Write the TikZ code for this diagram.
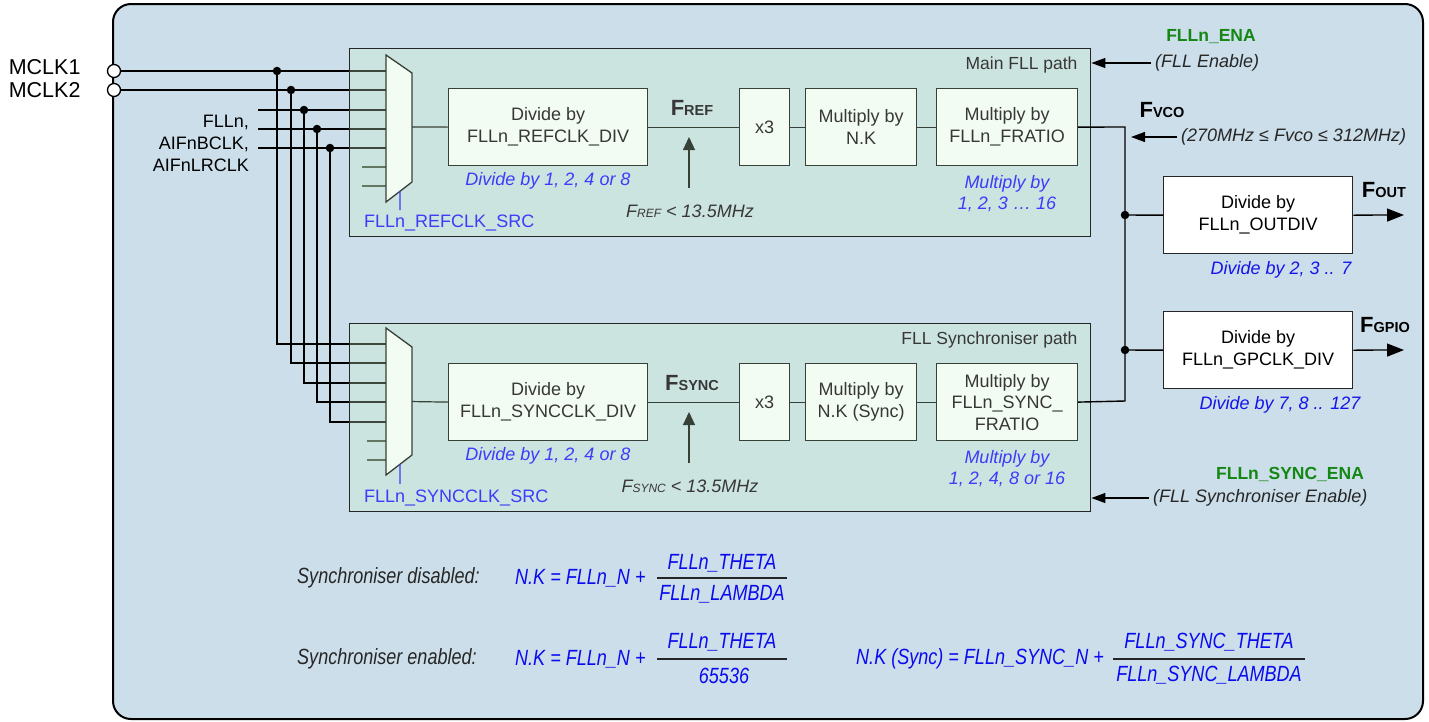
\documentclass[tikz,border=0pt]{standalone}
\usepackage{fontspec}
\setmainfont{Liberation Sans}
\newfontfamily\narrowf[FakeStretch=0.82]{Liberation Sans}
\usetikzlibrary{arrows.meta}
\definecolor{bgblue}{RGB}{204,222,233}
\definecolor{pathfill}{RGB}{204,245,200}
\definecolor{boxfill}{RGB}{243,252,243}
\definecolor{dline}{RGB}{55,65,55}
\definecolor{txtgray}{RGB}{55,55,55}
\definecolor{lblblue}{RGB}{60,60,250}
\definecolor{lblblue2}{RGB}{20,20,235}
\definecolor{eqblue}{RGB}{10,10,240}
\definecolor{enagreen}{RGB}{20,135,20}
\newcommand{\Fs}[1]{{\fontsize{22}{22}\selectfont\bfseries F}{\fontsize{14.5}{14.5}\selectfont\bfseries #1}}
\newcommand{\Fi}[1]{{\itshape F}{\fontsize{12}{12}\selectfont\itshape #1}}
\begin{document}
\begin{tikzpicture}[x=1pt,y=-1pt,font=\fontsize{18}{22}\selectfont,
  wire/.style={line width=1.7pt,black},
  pathbox/.style={draw=black!85,line width=1.4pt,fill=pathfill,fill opacity=0.3,draw opacity=1,anchor=north west,inner sep=0pt},
  blk/.style={draw=dline,line width=1.2pt,fill=boxfill,align=center,anchor=north west,inner sep=0pt,minimum height=77pt,text=txtgray},
  outblk/.style={draw=black!85,line width=1.3pt,fill=white,align=center,anchor=north west,inner sep=0pt,minimum height=77pt,minimum width=189pt},
  muxs/.style={draw=dline,line width=1.3pt,fill=boxfill},
  iline/.style={line width=1.2pt,dline},
  dot/.style={circle,fill=black,inner sep=0pt,minimum size=8.5pt},
  port/.style={circle,draw=black,line width=1.3pt,fill=white,inner sep=0pt,minimum size=13pt},
  lbl/.style={text=lblblue,font=\fontsize{18}{21}\selectfont\itshape,align=center},
  lbl2/.style={text=lblblue2,font=\fontsize{18}{21}\selectfont\itshape,align=center},
  note/.style={text=txtgray,font=\fontsize{18}{21}\selectfont\itshape},
  ena/.style={text=enagreen,font=\fontsize{17.5}{21}\selectfont\bfseries},
  eq/.style={font=\narrowf\itshape\fontsize{22}{24}\selectfont,text=eqblue,inner sep=0pt},
  eqlbl/.style={font=\narrowf\itshape\fontsize{22}{24}\selectfont,text=black!85,inner sep=0pt},
  earrow/.style={-{Triangle[length=14pt,width=10pt]},line width=1.2pt,black},
  oarrow/.style={-{Triangle[length=17pt,width=13pt]},line width=1.3pt,black},
  uarrow/.style={-{Triangle[length=13pt,width=12pt]},line width=1.2pt,dline}]
\useasboundingbox (0,0) rectangle (1429,721);
% outer panel
\draw[line width=2pt,fill=bgblue,rounded corners=18pt] (113,4) rectangle (1423,719);

% ports
\node[port] (mclk1) at (114,71) {};
\node[port] (mclk2) at (114,90) {};
\node[anchor=east,font=\fontsize{21.5}{22}\selectfont] (l1) at (84,67) {MCLK1};
\node[anchor=east,font=\fontsize{21.5}{22}\selectfont] (l2) at (84,90) {MCLK2};
\node[anchor=east,align=right,inner sep=0pt] (l3) at (249,143) {FLLn,\\AIFnBCLK,\\AIFnLRCLK};

% mux input coordinates
\foreach \i/\y in {1/71,2/90,3/110,4/129,5/148,6/167,7/186}{\coordinate (ua\i) at (386,\y);}
\foreach \i/\y in {1/344,2/363,3/383,4/402,5/422,6/441,7/460}{\coordinate (la\i) at (386,\y);}

% wires
\draw[wire] (mclk1.east) -- (ua1);
\draw[wire] (mclk2.east) -- (ua2);
\coordinate (s3) at (258,110); \coordinate (s4) at (258,129); \coordinate (s5) at (258,148);
\draw[wire] (s3) -- (ua3);
\draw[wire] (s4) -- (ua4);
\draw[wire] (s5) -- (ua5);
\node[dot] (d1) at (277,71) {};
\node[dot] (d2) at (291,90) {};
\node[dot] (d3) at (304,110) {};
\node[dot] (d4) at (317,129) {};
\node[dot] (d5) at (330,148) {};
\draw[wire] (d1.center) |- (la1);
\draw[wire] (d2.center) |- (la2);
\draw[wire] (d3.center) |- (la3);
\draw[wire] (d4.center) |- (la4);
\draw[wire] (d5.center) |- (la5);
\coordinate (st6) at (362,167); \coordinate (st7) at (362,186);
\coordinate (lt6) at (367,441); \coordinate (lt7) at (367,460);
\draw[iline] (st6) -- (ua6);
\draw[iline] (st7) -- (ua7);
\draw[iline] (lt6) -- (la6);
\draw[iline] (lt7) -- (la7);

% path boxes
\node[pathbox,minimum width=741pt,minimum height=188pt] (mainp) at (349,48) {};
\node[pathbox,minimum width=741pt,minimum height=188pt] (syncp) at (349,323) {};
\node[anchor=east,text=txtgray,font=\fontsize{17.5}{20}\selectfont] (t1) at (1081,65) {Main FLL path};
\node[anchor=east,text=txtgray,font=\fontsize{17.5}{20}\selectfont] (t2) at (1081,340) {FLL Synchroniser path};

% muxes
\draw[muxs] (386,55) -- (412,73) -- coordinate[pos=0.495] (umo) (412,182) -- coordinate[pos=0.46] (ums) (386,202) -- cycle;
\draw[muxs] (386,328) -- (412,347) -- coordinate[pos=0.505] (lmo) (412,455) -- coordinate[pos=0.46] (lms) (386,475) -- cycle;
\coordinate (usel) at (400,210);
\coordinate (lsel) at (400,484);
\draw[line width=1.3pt,lblblue] (ums) -- (usel);
\draw[line width=1.3pt,lblblue] (lms) -- (lsel);
\node[anchor=west,text=lblblue,font=\fontsize{18}{20}\selectfont,inner sep=0pt] (usrc) at (364,223) {FLLn\_REFCLK\_SRC};
\node[anchor=west,text=lblblue,font=\fontsize{18}{20}\selectfont,inner sep=0pt] (lsrc) at (364,498) {FLLn\_SYNCCLK\_SRC};

% main path blocks
\node[blk,minimum width=199pt] (rdiv) at (448,88) {Divide by\\FLLn\_REFCLK\_DIV};
\node[blk,minimum width=50pt] (ux3) at (739,88) {x3};
\node[blk,minimum width=111pt] (unk) at (805,88) {Multiply by\\N.K};
\node[blk,minimum width=141pt] (ufr) at (936,88) {Multiply by\\FLLn\_FRATIO};
\draw[iline] (umo) -- (rdiv.west);
\draw[iline] (rdiv.east) -- (ux3.west);
\draw[iline] (ux3.east) -- (unk.west);
\draw[iline] (unk.east) -- (ufr.west);

% sync path blocks
\node[blk,minimum width=199pt] (sdiv) at (448,363) {Divide by\\FLLn\_SYNCCLK\_DIV};
\node[blk,minimum width=50pt] (lx3) at (739,363) {x3};
\node[blk,minimum width=111pt] (lnk) at (805,363) {Multiply by\\N.K (Sync)};
\node[blk,minimum width=141pt,font=\fontsize{18}{21.5}\selectfont] (lfr) at (936,363) {Multiply by\\FLLn\_SYNC\_\\FRATIO};
\draw[iline] (lmo) -- (sdiv.west);
\draw[iline] (sdiv.east) -- (lx3.west);
\draw[iline] (lx3.east) -- (lnk.west);
\draw[iline] (lnk.east) -- (lfr.west);

% F labels and limits
\node[text=txtgray,inner sep=0pt] (fref) at (692,108) {\Fs{REF}};
\node[text=txtgray,inner sep=0pt] (fsync) at (692,383) {\Fs{SYNC}};
\coordinate (ua) at (689,188); \coordinate (uat) at (689,137);
\coordinate (la) at (689,463); \coordinate (lat) at (689,412);
\draw[uarrow] (ua) -- (uat);
\draw[uarrow] (la) -- (lat);
\node[note] (rlim) at (690,211) {\Fi{REF} < 13.5MHz};
\node[note] (slim) at (690,486) {\Fi{SYNC} < 13.5MHz};
\node[lbl] (rd) at (548,181) {Divide by 1, 2, 4 or 8};
\node[lbl] (sd) at (548,456) {Divide by 1, 2, 4 or 8};
\node[lbl] (rm) at (1007,194) {Multiply by\\1, 2, 3 … 16};
\node[lbl] (sm) at (1007,469) {Multiply by\\1, 2, 4, 8 or 16};

% VCO bus and outputs
\coordinate (vtop) at (1125,127);
\coordinate (vbot) at (1125,401);
\draw[line width=1.4pt] (ufr.east) -- (vtop) -- (vbot) -- (lfr.east);
\node[dot] (j1) at (1125,215) {};
\node[dot] (j2) at (1125,350) {};
\node[outblk] (odiv) at (1163,176) {Divide by\\FLLn\_OUTDIV};
\node[outblk] (gdiv) at (1163,311) {Divide by\\FLLn\_GPCLK\_DIV};
\draw[line width=1.4pt] (j1.center) -- (odiv.west);
\draw[line width=1.4pt] (j2.center) -- (gdiv.west);
\coordinate (fo) at (1404,215);
\coordinate (fg) at (1404,350);
\draw[oarrow] (odiv.east) -- (fo);
\draw[oarrow] (gdiv.east) -- (fg);
\node[inner sep=0pt] (fout) at (1384,190) {\Fs{OUT}};
\node[inner sep=0pt] (fgpio) at (1385,325) {\Fs{GPIO}};
\node[inner sep=0pt] (fvco) at (1162,110) {\Fs{VCO}};
\node[lbl2] (od) at (1281,270) {Divide by 2, 3 .. 7};
\node[lbl2] (gd) at (1280,405) {Divide by 7, 8 .. 127};

% enables and constraints
\node[ena] (ena1) at (1211,37) {FLLn\_ENA};
\node[note,anchor=west,inner sep=0pt,text=black!85] (ena1t) at (1155,63) {(FLL Enable)};
\draw[earrow] (ena1t.west) ++(-4,0) coordinate (e1s) -- (mainp.east |- e1s);
\node[note,anchor=west,inner sep=0pt,text=black!85] (vcot) at (1181,137) {(270MHz ≤ Fvco ≤ 312MHz)};
\coordinate (vs) at (1177,137);
\coordinate (vt) at (1131,137);
\draw[earrow] (vs) -- (vt);
\node[ena] (ena2) at (1290,474) {FLLn\_SYNC\_ENA};
\node[note,anchor=west,inner sep=0pt,text=black!85] (ena2t) at (1153,498) {(FLL Synchroniser Enable)};
\draw[earrow] (ena2t.west) ++(-4,0) coordinate (e2s) -- (syncp.east |- e2s);

% equations
\node[eqlbl,anchor=west] (q1l) at (297,578) {Synchroniser disabled:};
\node[eq,anchor=west] (q1a) at (515,578) {N.K = FLLn\_N +};
\node[eq] (q1n) at (722,563) {FLLn\_THETA};
\node[eq] (q1d) at (722,594) {FLLn\_LAMBDA};
\coordinate (b1a) at (657,578); \coordinate (b1b) at (787,578);
\draw[line width=1.6pt,black!85] (b1a) -- (b1b);

\node[eqlbl,anchor=west] (q2l) at (297,659) {Synchroniser enabled:};
\node[eq,anchor=west] (q2a) at (515,659) {N.K = FLLn\_N +};
\node[eq] (q2n) at (722,642) {FLLn\_THETA};
\node[eq] (q2d) at (724,676) {65536};
\coordinate (b2a) at (657,659); \coordinate (b2b) at (787,659);
\draw[line width=1.6pt,black!85] (b2a) -- (b2b);

\node[eq,anchor=west] (q3a) at (856,659) {N.K (Sync) = FLLn\_SYNC\_N +};
\node[eq] (q3n) at (1209,642) {FLLn\_SYNC\_THETA};
\node[eq] (q3d) at (1209,675) {FLLn\_SYNC\_LAMBDA};
\coordinate (b3a) at (1113,659); \coordinate (b3b) at (1305,659);
\draw[line width=1.6pt,black!85] (b3a) -- (b3b);
\end{tikzpicture}
\end{document}
